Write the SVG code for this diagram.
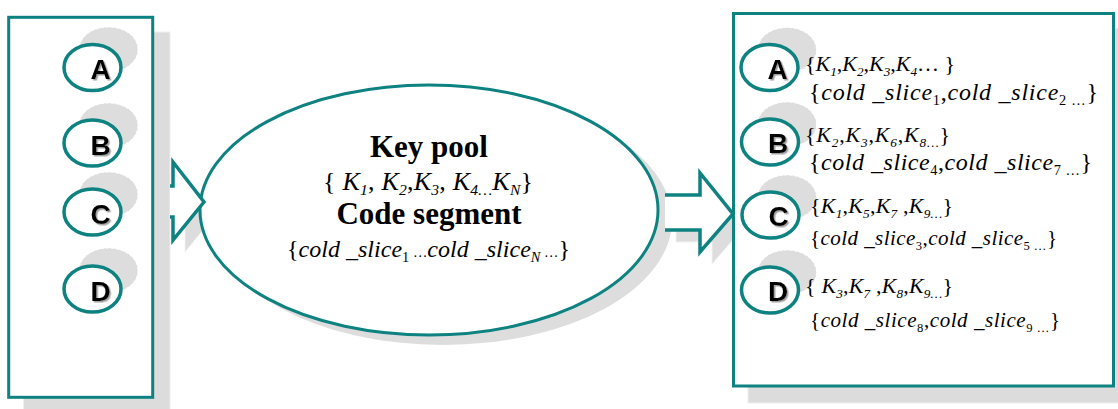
<svg xmlns="http://www.w3.org/2000/svg" width="1118" height="409" viewBox="0 0 1118 409">
<style>
.frame{fill:#fff;stroke:#0d8280;stroke-width:3}
.bshadow{fill:#dcdcdc;stroke:#eeeeee;stroke-width:1}
.cshadow{fill:#dddddd;stroke:#fff;stroke-width:1;stroke-dasharray:3 2}
.ring{fill:#fff;stroke:#0d8280;stroke-width:3.5}
.arrow{fill:#fff;stroke:#0d8280;stroke-width:3.5;stroke-linejoin:miter}
.ashadow{fill:#dddddd;stroke:#f2f2f2;stroke-width:1}
.let{font-family:"Liberation Sans",Arial,sans-serif;font-weight:bold;font-size:28px;fill:#000;text-anchor:middle;filter:url(#ts)}
.m{font-family:"Liberation Serif","Times New Roman",serif;fill:#000}
.i{font-style:italic}
.s{font-size:0.6em}
.b{font-weight:bold;font-size:31px;text-anchor:middle}
.c{text-anchor:middle}
</style>
<defs>
<filter id="ts" x="-20%" y="-20%" width="150%" height="150%">
<feDropShadow dx="1.5" dy="1.5" stdDeviation="0.6" flood-color="#888" flood-opacity="0.8"/>
</filter>
</defs>

<g id="connectors">
<path class="ashadow" d="M182,198 H185 V174 L216,214 L185,252 V229 H182 Z"/>
<path class="ashadow" d="M676,207 H712 V185 L745,226 L712,264 V242 H676 Z"/>
</g>

<g id="left-box">
<rect class="bshadow" x="23.5" y="32" width="146.5" height="385"/>
<rect class="frame" x="8.7" y="17.3" width="144" height="380"/>
<ellipse class="cshadow" cx="108.5" cy="49.5" rx="29.5" ry="22.5"/>
<ellipse class="cshadow" cx="108.5" cy="125.5" rx="29.5" ry="22.5"/>
<ellipse class="cshadow" cx="108.5" cy="194.5" rx="29.5" ry="22.5"/>
<ellipse class="cshadow" cx="108.5" cy="270.5" rx="29.5" ry="22.5"/>
<g id="left-A"><ellipse class="ring" cx="92.5" cy="67.5" rx="28.5" ry="23"/><text class="let" x="100.5" y="79">A</text></g>
<g id="left-B"><ellipse class="ring" cx="92.5" cy="143" rx="28.5" ry="23"/><text class="let" x="100.5" y="154.5">B</text></g>
<g id="left-C"><ellipse class="ring" cx="92.5" cy="212" rx="28.5" ry="23"/><text class="let" x="100.5" y="223.5">C</text></g>
<g id="left-D"><ellipse class="ring" cx="92.5" cy="289" rx="28.5" ry="23"/><text class="let" x="100.5" y="300.5">D</text></g>
</g>

<g id="key-pool">
<ellipse fill="#dddddd" cx="443" cy="220" rx="229" ry="125"/>
<ellipse class="frame" cx="429" cy="210" rx="229" ry="125"/>
<text class="m b" x="429" y="157">Key pool</text>
<text class="m" x="323" y="190" font-size="26" textLength="210" lengthAdjust="spacing">{ <tspan class="i">K</tspan><tspan class="i s" dy="5">1</tspan><tspan dy="-5">, </tspan><tspan class="i">K</tspan><tspan class="i s" dy="5">2</tspan><tspan dy="-5">,</tspan><tspan class="i">K</tspan><tspan class="i s" dy="5">3</tspan><tspan dy="-5">, </tspan><tspan class="i">K</tspan><tspan class="i s" dy="5">4…</tspan><tspan class="i" dy="-5">K</tspan><tspan class="i s" dy="5">N</tspan><tspan dy="-5">}</tspan></text>
<text class="m b" x="429" y="224">Code segment</text>
<text class="m" x="287" y="257" font-size="24" textLength="283" lengthAdjust="spacing">{<tspan class="i">cold _slice</tspan><tspan class="s" dy="5">1</tspan><tspan class="s" dy="-5"> …</tspan><tspan class="i">cold _slice</tspan><tspan class="i s" dy="5">N</tspan><tspan class="s" dy="-5"> …</tspan>}</text>
</g>

<g id="arrows">
<path class="arrow" d="M170,186 H173 V162 L204,202 L173,240 V217 H170"/>
<path class="arrow" d="M665,195 H700 V173 L733,214 L700,252 V230 H665"/>
</g>

<g id="right-box">
<rect class="bshadow" x="748" y="28" width="380" height="375"/>
<rect class="frame" x="733.5" y="13.5" width="380" height="372.5"/>
<ellipse class="cshadow" cx="787" cy="50" rx="29.5" ry="22.5"/>
<ellipse class="cshadow" cx="787" cy="124.5" rx="29.5" ry="22.5"/>
<ellipse class="cshadow" cx="787" cy="197.5" rx="29.5" ry="22.5"/>
<ellipse class="cshadow" cx="787" cy="272.5" rx="29.5" ry="22.5"/>
<g id="right-A"><ellipse class="ring" cx="769.5" cy="67.5" rx="28.5" ry="23"/><text class="let" x="777.5" y="78.5">A</text>
<text class="m" x="805" y="71" font-size="22" textLength="150" lengthAdjust="spacing">{<tspan class="i">K</tspan><tspan class="i s" dy="5">1</tspan><tspan dy="-5">,</tspan><tspan class="i">K</tspan><tspan class="i s" dy="5">2</tspan><tspan dy="-5">,</tspan><tspan class="i">K</tspan><tspan class="i s" dy="5">3</tspan><tspan dy="-5">,</tspan><tspan class="i">K</tspan><tspan class="i s" dy="5">4</tspan><tspan dy="-5">… }</tspan></text>
<text class="m" x="809" y="100" font-size="24" textLength="289" lengthAdjust="spacing">{<tspan class="i">cold _slice</tspan><tspan class="s" dy="5">1</tspan><tspan dy="-5">,</tspan><tspan class="i">cold _slice</tspan><tspan class="s" dy="5">2 …</tspan><tspan dy="-5">}</tspan></text></g>
<g id="right-B"><ellipse class="ring" cx="770" cy="142" rx="28.5" ry="23"/><text class="let" x="778" y="153">B</text>
<text class="m" x="805" y="142" font-size="22" textLength="145" lengthAdjust="spacing">{<tspan class="i">K</tspan><tspan class="i s" dy="5">2</tspan><tspan dy="-5">,</tspan><tspan class="i">K</tspan><tspan class="i s" dy="5">3</tspan><tspan dy="-5">,</tspan><tspan class="i">K</tspan><tspan class="i s" dy="5">6</tspan><tspan dy="-5">,</tspan><tspan class="i">K</tspan><tspan class="i s" dy="5">8…</tspan><tspan dy="-5">}</tspan></text>
<text class="m" x="809" y="170" font-size="24" textLength="283" lengthAdjust="spacing">{<tspan class="i">cold _slice</tspan><tspan class="s" dy="5">4</tspan><tspan dy="-5">,</tspan><tspan class="i">cold _slice</tspan><tspan class="s" dy="5">7 …</tspan><tspan dy="-5">}</tspan></text></g>
<g id="right-C"><ellipse class="ring" cx="770.5" cy="215" rx="28.5" ry="23"/><text class="let" x="778.5" y="226">C</text>
<text class="m" x="810" y="213" font-size="22" textLength="143" lengthAdjust="spacing">{<tspan class="i">K</tspan><tspan class="i s" dy="5">1</tspan><tspan dy="-5">,</tspan><tspan class="i">K</tspan><tspan class="i s" dy="5">5</tspan><tspan dy="-5">,</tspan><tspan class="i">K</tspan><tspan class="i s" dy="5">7</tspan><tspan dy="-5"> ,</tspan><tspan class="i">K</tspan><tspan class="i s" dy="5">9…</tspan><tspan dy="-5">}</tspan></text>
<text class="m" x="810" y="245" font-size="21" textLength="247" lengthAdjust="spacing">{<tspan class="i">cold _slice</tspan><tspan class="s" dy="5">3</tspan><tspan dy="-5">,</tspan><tspan class="i">cold _slice</tspan><tspan class="s" dy="5">5 …</tspan><tspan dy="-5">}</tspan></text></g>
<g id="right-D"><ellipse class="ring" cx="770" cy="290" rx="28.5" ry="23"/><text class="let" x="778" y="301">D</text>
<text class="m" x="805" y="293" font-size="22" textLength="148" lengthAdjust="spacing">{ <tspan class="i">K</tspan><tspan class="i s" dy="5">3</tspan><tspan dy="-5">,</tspan><tspan class="i">K</tspan><tspan class="i s" dy="5">7</tspan><tspan dy="-5"> ,</tspan><tspan class="i">K</tspan><tspan class="i s" dy="5">8</tspan><tspan dy="-5">,</tspan><tspan class="i">K</tspan><tspan class="i s" dy="5">9…</tspan><tspan dy="-5">}</tspan></text>
<text class="m" x="810" y="327" font-size="21" textLength="250" lengthAdjust="spacing">{<tspan class="i">cold _slice</tspan><tspan class="s" dy="5">8</tspan><tspan dy="-5">,</tspan><tspan class="i">cold _slice</tspan><tspan class="s" dy="5">9 …</tspan><tspan dy="-5">}</tspan></text></g>
</g>
</svg>
